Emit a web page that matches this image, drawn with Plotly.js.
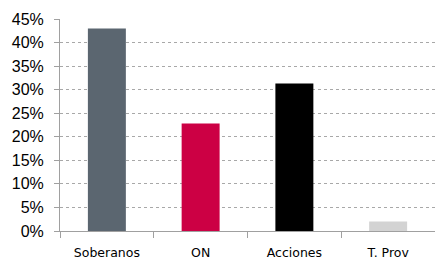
<!DOCTYPE html>
<html><head><meta charset="utf-8">
<script src="https://cdn.plot.ly/plotly-3.0.1.min.js"></script>
<style>html,body{margin:0;padding:0;background:#fff}#c{width:435px;height:259px}</style>
</head><body><div id="c"></div>
<script>
const categories = ["Soberanos", "ON", "Acciones", "T. Prov"];
const values = [43.0, 22.8, 31.3, 2.0];
const barColors = ["#5b6670", "#cc0044", "#000000", "#d3d3d3"];
const yTickVals = [0, 5, 10, 15, 20, 25, 30, 35, 40, 45];
const yTickText = yTickVals.map(v => v + "%");

const trace = {
  type: "bar",
  x: categories,
  y: values,
  marker: {color: barColors, line: {width: 0}},
  width: 0.405,
  hoverinfo: "none"
};
const layout = {
  width: 435, height: 259,
  margin: {l: 60, r: 0, t: 19, b: 28, pad: 0},
  paper_bgcolor: "#fff", plot_bgcolor: "#fff",
  showlegend: false,
  xaxis: {
    type: "category",
    showgrid: false,
    showline: true, linecolor: "#a0a0a0", linewidth: 1,
    ticks: "outside", tickson: "boundaries", ticklen: 6, tickcolor: "#a0a0a0",
    ticklabelstandoff: 10,
    tickfont: {family: "DejaVu Sans", size: 12.5, color: "#000"},
    fixedrange: true
  },
  yaxis: {
    range: [0, 45],
    tickvals: yTickVals, ticktext: yTickText,
    showgrid: true, gridcolor: "#a8a8a8", griddash: "dot", gridwidth: 1,
    zeroline: false,
    showline: true, linecolor: "#a0a0a0", linewidth: 1,
    ticks: "outside", ticklen: 5, tickcolor: "#a0a0a0",
    ticklabelstandoff: 7,
    tickfont: {family: "Liberation Sans, Arial", size: 16, color: "#000"},
    fixedrange: true
  }
};
Plotly.newPlot("c", [trace], layout, {staticPlot: true, displayModeBar: false});
</script>
</body></html>
